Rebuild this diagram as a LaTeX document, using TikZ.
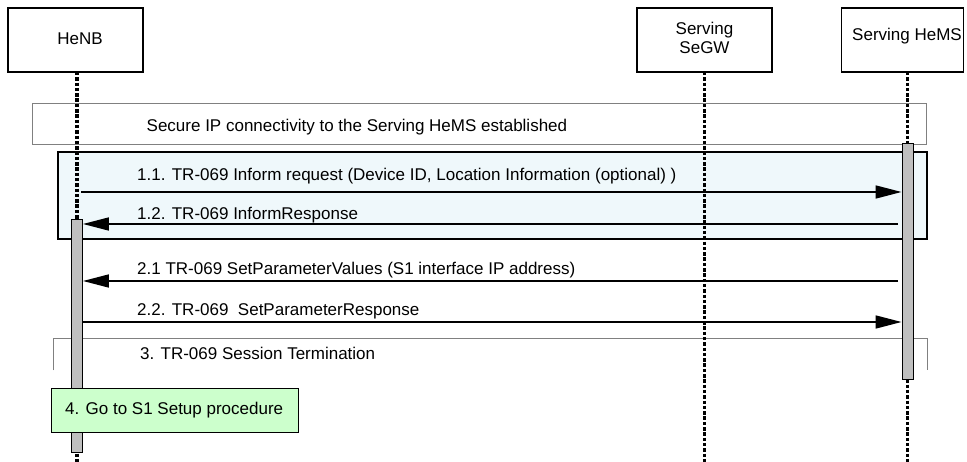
\documentclass[tikz,border=0pt]{standalone}
\usepackage{fontspec}
\setmainfont{Liberation Sans}
\usetikzlibrary{arrows.meta}
\definecolor{paleblue}{RGB}{239,248,251}
\definecolor{palegreen}{RGB}{204,255,204}
\begin{document}
\begin{tikzpicture}[x=1pt,y=-1pt,
  ent/.style={draw, line width=1.3pt, fill=white, minimum height=64pt, inner sep=0pt},
  life/.style={line width=3.2pt, dash pattern=on 3.5pt off 1.8pt},
  actbar/.style={draw, fill=black!25, line width=0.9pt, minimum width=11pt, inner sep=0pt},
  msg/.style={line width=1.7pt, -{Triangle[length=26pt,width=13pt]}},
  lbl/.style={anchor=base west, inner sep=0pt, font=\fontsize{17}{19}\selectfont},
  ctr/.style={anchor=base, inner sep=0pt, font=\fontsize{17}{19}\selectfont},
  grp/.style={draw=black!50, line width=0.8pt},
]
\useasboundingbox (0,0) rectangle (967,462);

% entity boxes
\node[ent, minimum width=135pt] (henb) at (75.5,40) {};
\node[ent, minimum width=135pt] (segw) at (704.5,40) {};
\node[ent, minimum width=122pt] (hems) at (902.5,40) {};
\node[ctr] (henbT) at (80,45) {HeNB};
\node[ctr] (segwT1) at (704.5,35) {Serving};
\node[ctr] (segwT2) at (704.5,54) {SeGW};
\node[ctr] (hemsT) at (907,41) {Serving HeMS};

% group frames
\node[grp, fill=white, minimum width=894pt, minimum height=41pt, inner sep=0pt] (secure) at (479,123.5) {};
\node[lbl] (secureT) at (146.5,131.5) {Secure IP connectivity to the Serving HeMS established};
\node[draw, line width=1.1pt, fill=paleblue, minimum width=869pt, minimum height=87pt, inner sep=0pt] (blue) at (492.5,195.5) {};

% session termination frame (top and sides only)
\coordinate (stl) at (53.5,370.5);
\coordinate (str) at (927,370.5);
\draw[grp, line width=0.7pt] (stl) |- (927,338) -- (str);

% lifelines
\coordinate (l1top) at (77,72);
\coordinate (l1bot) at (77,462);
\coordinate (l2top) at (704.5,72);
\coordinate (l2bot) at (704.5,462);
\coordinate (l3top) at (907.5,72);
\coordinate (l3bot) at (907.5,462);
\draw[life] (l1top) -- (l1bot);
\draw[life] (l2top) -- (l2bot);
\draw[life] (l3top) -- (l3bot);

% activation bars
\node[actbar, minimum height=236pt] (hemsbar) at (907.5,261) {};
\node[actbar, minimum height=233pt] (henbbar) at (77,335.5) {};

% messages
\coordinate (m1s) at (81,192);
\coordinate (m1e) at (hemsbar.west |- 0,192);
\draw[msg] (m1s) -- (m1e);
\node[lbl] (m1T) at (137,180.7) {1.1. TR-069 Inform request (Device ID, Location Information (optional) )};

\coordinate (m2s) at (898,224);
\coordinate (m2e) at (henbbar.east |- 0,224);
\draw[msg] (m2s) -- (m2e);
\node[lbl] (m2T) at (137,219.3) {1.2. TR-069 InformResponse};

\coordinate (m3s) at (898,281);
\coordinate (m3e) at (henbbar.east |- 0,281);
\draw[msg] (m3s) -- (m3e);
\node[lbl] (m3T) at (137,275) {2.1 TR-069 SetParameterValues (S1 interface IP address)};

\coordinate (m4s) at (henbbar.east |- 0,322);
\coordinate (m4e) at (hemsbar.west |- 0,322);
\draw[msg] (m4s) -- (m4e);
\node[lbl] (m4T) at (137,316) {2.2. TR-069~ SetParameterResponse};

\node[lbl] (stT) at (140,360) {3. TR-069 Session Termination};

% green box
\node[draw, line width=0.9pt, fill=palegreen, minimum width=247pt, minimum height=44pt, inner sep=0pt] (go) at (174.5,410) {};
\node[lbl] (goT) at (65,414) {4. Go to S1 Setup procedure};
\end{tikzpicture}
\end{document}
